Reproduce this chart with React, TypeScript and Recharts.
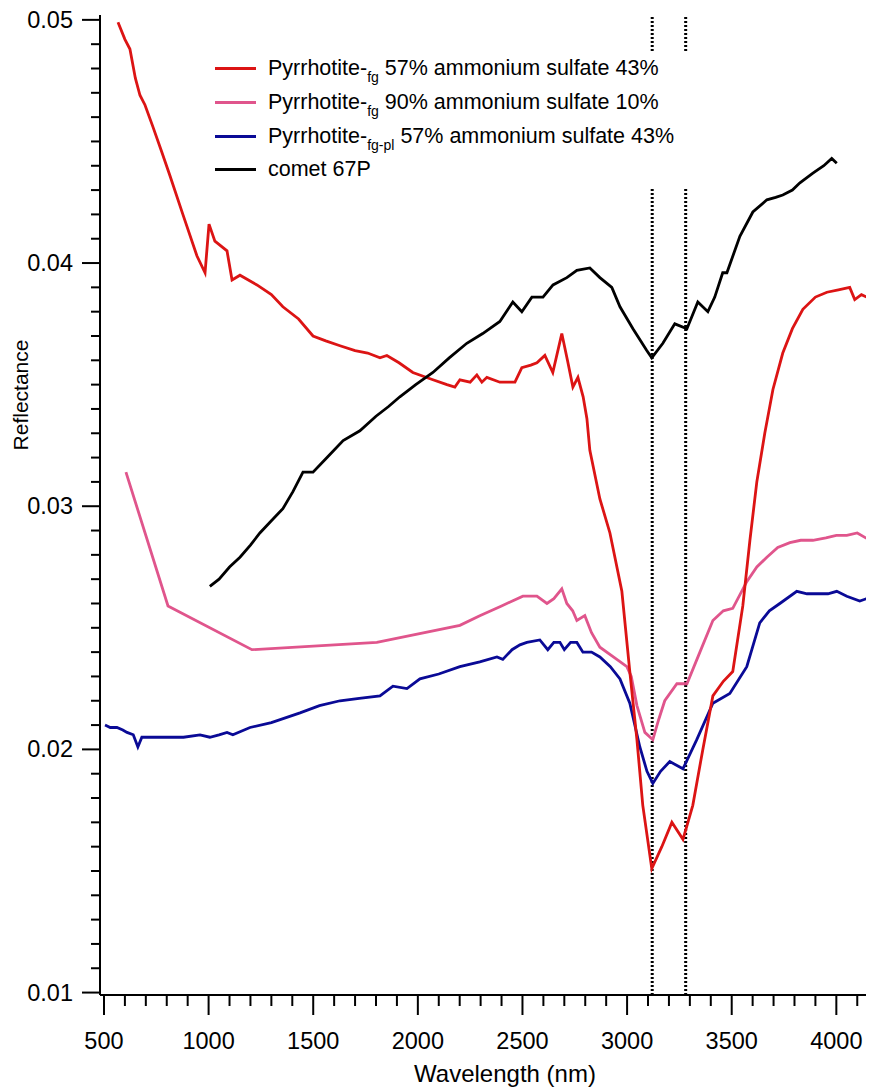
import React from 'react';
import { LineChart, Line, XAxis, YAxis, ReferenceLine, Legend, Label } from 'recharts';

// ---------- data ----------
const RED_WL = [567, 600, 624, 650, 672, 696, 734, 775, 815, 877, 944, 983, 1002, 1030, 1088, 1112, 1150, 1231, 1300, 1355, 1430, 1499, 1560, 1628, 1700, 1760, 1819, 1852, 1910, 1976, 2072, 2139, 2177, 2201, 2250, 2282, 2306, 2330, 2392, 2464, 2497, 2540, 2569, 2607, 2645, 2688, 2715, 2741, 2765, 2790, 2808, 2822, 2870, 2918, 2975, 3013, 3047, 3075, 3118, 3166, 3214, 3267, 3314, 3362, 3410, 3460, 3505, 3553, 3587, 3620, 3658, 3697, 3744, 3790, 3840, 3900, 3955, 4010, 4064, 4088, 4120, 4145, 4179];
const RED_R = [0.0499, 0.0492, 0.0488, 0.0476, 0.0469, 0.0465, 0.0456, 0.0446, 0.0436, 0.0420, 0.0403, 0.0396, 0.0416, 0.0409, 0.0405, 0.0393, 0.0395, 0.0391, 0.0387, 0.0382, 0.0377, 0.0370, 0.0368, 0.0366, 0.0364, 0.0363, 0.0361, 0.0362, 0.0359, 0.0355, 0.0352, 0.0350, 0.0349, 0.0352, 0.0351, 0.0354, 0.0351, 0.0353, 0.0351, 0.0351, 0.0357, 0.0358, 0.0359, 0.0362, 0.0355, 0.0371, 0.0360, 0.0349, 0.0353, 0.0345, 0.0336, 0.0323, 0.0303, 0.0289, 0.0265, 0.0232, 0.0204, 0.0177, 0.0151, 0.0160, 0.0170, 0.0163, 0.0177, 0.0200, 0.0222, 0.0228, 0.0232, 0.0259, 0.0286, 0.0310, 0.0330, 0.0348, 0.0363, 0.0373, 0.0381, 0.0386, 0.0388, 0.0389, 0.0390, 0.0385, 0.0387, 0.0386, 0.0386];

const PINK_WL = [605, 806, 1207, 1804, 2201, 2296, 2400, 2502, 2569, 2617, 2650, 2688, 2712, 2740, 2760, 2798, 2830, 2870, 2951, 2999, 3020, 3047, 3085, 3123, 3150, 3180, 3238, 3286, 3348, 3410, 3460, 3505, 3572, 3620, 3668, 3720, 3778, 3830, 3888, 3950, 4000, 4050, 4100, 4140, 4179];
const PINK_R = [0.0314, 0.0259, 0.0241, 0.0244, 0.0251, 0.0255, 0.0259, 0.0263, 0.0263, 0.0260, 0.0262, 0.0266, 0.0260, 0.0257, 0.0253, 0.0255, 0.0248, 0.0242, 0.0237, 0.0234, 0.0230, 0.0218, 0.0207, 0.0204, 0.0212, 0.0220, 0.0227, 0.0227, 0.0240, 0.0253, 0.0257, 0.0258, 0.0269, 0.0275, 0.0279, 0.0283, 0.0285, 0.0286, 0.0286, 0.0287, 0.0288, 0.0288, 0.0289, 0.0287, 0.0286];

const BLUE_WL = [505, 530, 562, 590, 610, 640, 662, 681, 740, 801, 880, 959, 1006, 1050, 1088, 1116, 1198, 1300, 1437, 1530, 1628, 1720, 1819, 1881, 1948, 2010, 2100, 2201, 2296, 2378, 2406, 2450, 2488, 2521, 2583, 2621, 2650, 2679, 2700, 2730, 2760, 2789, 2830, 2870, 2920, 2966, 3013, 3061, 3095, 3123, 3160, 3204, 3267, 3333, 3410, 3491, 3572, 3634, 3680, 3730, 3811, 3860, 3907, 3960, 4002, 4050, 4112, 4145, 4169];
const BLUE_R = [0.0210, 0.0209, 0.0209, 0.0208, 0.0207, 0.0206, 0.0201, 0.0205, 0.0205, 0.0205, 0.0205, 0.0206, 0.0205, 0.0206, 0.0207, 0.0206, 0.0209, 0.0211, 0.0215, 0.0218, 0.0220, 0.0221, 0.0222, 0.0226, 0.0225, 0.0229, 0.0231, 0.0234, 0.0236, 0.0238, 0.0237, 0.0241, 0.0243, 0.0244, 0.0245, 0.0241, 0.0244, 0.0244, 0.0241, 0.0244, 0.0244, 0.0240, 0.0240, 0.0238, 0.0234, 0.0229, 0.0219, 0.0201, 0.0191, 0.0186, 0.0191, 0.0195, 0.0192, 0.0204, 0.0219, 0.0223, 0.0234, 0.0252, 0.0257, 0.0260, 0.0265, 0.0264, 0.0264, 0.0264, 0.0265, 0.0263, 0.0261, 0.0262, 0.0266];

const COMET_WL = [1006, 1050, 1100, 1150, 1200, 1245, 1300, 1355, 1403, 1451, 1499, 1566, 1643, 1723, 1800, 1860, 1914, 1990, 2072, 2150, 2234, 2310, 2392, 2454, 2497, 2545, 2598, 2646, 2712, 2760, 2822, 2870, 2927, 2966, 3028, 3094, 3118, 3171, 3228, 3286, 3338, 3386, 3419, 3457, 3477, 3539, 3601, 3668, 3710, 3744, 3790, 3826, 3888, 3940, 3978, 4002];
const COMET_R = [0.0267, 0.0270, 0.0275, 0.0279, 0.0284, 0.0289, 0.0294, 0.0299, 0.0306, 0.0314, 0.0314, 0.0320, 0.0327, 0.0331, 0.0337, 0.0341, 0.0345, 0.0350, 0.0355, 0.0361, 0.0367, 0.0371, 0.0376, 0.0384, 0.0380, 0.0386, 0.0386, 0.0391, 0.0394, 0.0397, 0.0398, 0.0394, 0.0390, 0.0382, 0.0373, 0.0364, 0.0361, 0.0367, 0.0375, 0.0373, 0.0384, 0.0380, 0.0386, 0.0396, 0.0396, 0.0411, 0.0421, 0.0426, 0.0427, 0.0428, 0.0430, 0.0433, 0.0437, 0.0440, 0.0443, 0.0441];

const X_TICKS = [500, 600, 700, 800, 900, 1000, 1100, 1200, 1300, 1400, 1500, 1600, 1700, 1800, 1900, 2000, 2100, 2200, 2300, 2400, 2500, 2600, 2700, 2800, 2900, 3000, 3100, 3200, 3300, 3400, 3500, 3600, 3700, 3800, 3900, 4000, 4100];
const X_MAJOR = [500, 1000, 1500, 2000, 2500, 3000, 3500, 4000];
const Y_TICKS = [0.010, 0.011, 0.012, 0.013, 0.014, 0.015, 0.016, 0.017, 0.018, 0.019, 0.020, 0.021, 0.022, 0.023, 0.024, 0.025, 0.026, 0.027, 0.028, 0.029, 0.030, 0.031, 0.032, 0.033, 0.034, 0.035, 0.036, 0.037, 0.038, 0.039, 0.040, 0.041, 0.042, 0.043, 0.044, 0.045, 0.046, 0.047, 0.048, 0.049, 0.050];
const Y_MAJOR = ['0.01', '0.02', '0.03', '0.04', '0.05'];
const V_LINES = [3120, 3280];
const X_DOMAIN = [481, 4180];
const Y_DOMAIN = [0.0099, 0.0502];

const toPoints = (wl: number[], r: number[]) => wl.map((x, i) => ({ x, y: r[i] }));

const FONT = "Arial, 'Liberation Sans', sans-serif";
const Y_AXIS_WIDTH = 92;

const SERIES = [
  { key: 'red', base: 'Pyrrhotite-', sub: 'fg', rest: ' 57% ammonium sulfate 43%', color: '#dc1414', data: toPoints(RED_WL, RED_R) },
  { key: 'pink', base: 'Pyrrhotite-', sub: 'fg', rest: ' 90% ammonium sulfate 10%', color: '#e0558c', data: toPoints(PINK_WL, PINK_R) },
  { key: 'blue', base: 'Pyrrhotite-', sub: 'fg-pl', rest: ' 57% ammonium sulfate 43%', color: '#0a0a96', data: toPoints(BLUE_WL, BLUE_R) },
  { key: 'comet', base: 'comet 67P', sub: '', rest: '', color: '#000000', data: toPoints(COMET_WL, COMET_R) },
];
const DRAW_ORDER = ['pink', 'blue', 'red', 'comet'];

const XTick = (props: any) => {
  const { x, y, payload } = props;
  const v = payload.value;
  const major = X_MAJOR.includes(v);
  return (
    <g>
      <line x1={x} x2={x} y1={y} y2={y + (major ? 20 : 11)} stroke="#000" strokeWidth={2} />
      {major && (
        <text x={x} y={y + 46} textAnchor="middle" dominantBaseline="central" fontSize={23.5} fontFamily={FONT} fill="#000">
          {v}
        </text>
      )}
    </g>
  );
};

const YTick = (props: any) => {
  const { y, payload } = props;
  const ax = Y_AXIS_WIDTH;
  const v = payload.value;
  const label = v.toFixed(2);
  const major = Y_MAJOR.includes(label) && Math.abs(v * 100 - Math.round(v * 100)) < 1e-6;
  return (
    <g>
      <line x1={ax} x2={ax - (major ? 18 : 9)} y1={y} y2={y} stroke="#000" strokeWidth={2} />
      {major && (
        <text x={ax - 27} y={y} textAnchor="end" dominantBaseline="central" fontSize={23.5} fontFamily={FONT} fill="#000">
          {label}
        </text>
      )}
    </g>
  );
};

const renderLegend = () => (
  <div style={{ background: '#fff', fontFamily: FONT, fontSize: 21.5, color: '#000', paddingLeft: 5, width: 495 }}>
    {SERIES.map((s) => (
      <div key={s.key} style={{ display: 'flex', alignItems: 'center', height: 33.7, whiteSpace: 'nowrap' }}>
        <span style={{ display: 'inline-block', width: 41, height: 3, background: s.color, marginRight: 12 }} />
        <span>
          {s.base}
          {s.sub && <span style={{ fontSize: 14, position: 'relative', top: 7 }}>{s.sub}</span>}
          {s.rest}
        </span>
      </div>
    ))}
  </div>
);

export default function App() {
  return (
    <LineChart width={866} height={1079} margin={{ top: 7, right: 0, bottom: 0, left: 0 }}>
      <XAxis
        xAxisId="bottom"
        type="number"
        dataKey="x"
        domain={X_DOMAIN}
        allowDataOverflow
        ticks={X_TICKS}
        interval={0}
        tick={<XTick />}
        tickLine={false}
        tickSize={0}
        tickMargin={0}
        height={92}
        axisLine={{ stroke: '#000', strokeWidth: 2 }}
      >
        <Label
          content={(p: any) => (
            <text x={p.viewBox.x + 405} y={p.viewBox.y + 78} textAnchor="middle" dominantBaseline="central" fontSize={24} fontFamily={FONT} fill="#000">
              Wavelength (nm)
            </text>
          )}
        />
      </XAxis>
      <XAxis
        xAxisId="top"
        orientation="top"
        type="number"
        domain={X_DOMAIN}
        allowDataOverflow
        height={0}
        tick={false}
        tickLine={false}
        axisLine={{ stroke: '#000', strokeWidth: 2 }}
      />
      <YAxis
        type="number"
        domain={Y_DOMAIN}
        allowDataOverflow
        ticks={Y_TICKS}
        interval={0}
        tick={<YTick />}
        tickLine={false}
        tickSize={0}
        tickMargin={0}
        width={Y_AXIS_WIDTH}
        axisLine={{ stroke: '#000', strokeWidth: 2 }}
      >
        <Label
          content={(p: any) => {
            const cx = 20;
            const cy = p.viewBox.y + 380;
            return (
              <text x={cx} y={cy} transform={`rotate(-90 ${cx} ${cy})`} textAnchor="middle" fontSize={21} fontFamily={FONT} fill="#000">
                Reflectance
              </text>
            );
          }}
        />
      </YAxis>
      {V_LINES.map((v) => (
        <ReferenceLine key={v} xAxisId="bottom" x={v} stroke="#000" strokeWidth={3} strokeDasharray="2 2" />
      ))}
      {DRAW_ORDER.map((k) => {
        const s = SERIES.find((q) => q.key === k)!;
        return (
          <Line
            key={s.key}
            xAxisId="bottom"
            data={s.data}
            dataKey="y"
            name={s.key}
            type="linear"
            stroke={s.color}
            strokeWidth={2.8}
            dot={false}
            activeDot={false}
            isAnimationActive={false}
          />
        );
      })}
      <Legend
        layout="vertical"
        align="center"
        verticalAlign="middle"
        content={renderLegend}
        wrapperStyle={{ top: 44, left: 202, width: 500 }}
      />
    </LineChart>
  );
}
